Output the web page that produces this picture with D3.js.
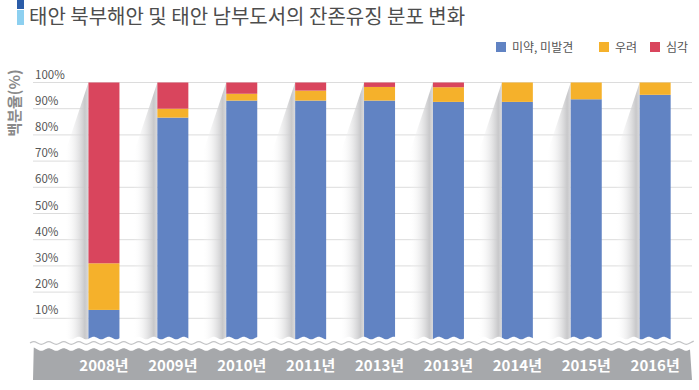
<!DOCTYPE html>
<html>
<head>
<meta charset="utf-8">
<script src="https://cdn.jsdelivr.net/npm/d3@7"></script>
<style>
  body { margin: 0; background: #fff; }
  text { font-family: "Noto Sans CJK KR", "Noto Sans", sans-serif; }
</style>
</head>
<body>
<svg id="chart" width="699" height="390"></svg>
<script>
const years = ["2008년", "2009년", "2010년", "2011년", "2013년", "2013년", "2014년", "2015년", "2016년"];
const mild = [13.2, 86.6, 93.1, 93.1, 93.1, 92.6, 92.6, 93.6, 95.3];
const concern = [17.8, 3.4, 2.6, 3.8, 5.2, 5.6, 7.4, 6.4, 4.7];
const severe = [69.0, 10.0, 4.3, 3.1, 1.7, 1.8, 0, 0, 0];
const seriesNames = ["미약, 미발견", "우려", "심각"];
const colors = ["#6183c3", "#f5b12b", "#d9455d"];
const yTicks = [10, 20, 30, 40, 50, 60, 70, 80, 90, 100];

const svg = d3.select("#chart");

// table for the stack
const rows = years.map((y, i) => ({ idx: i, year: y, s0: mild[i], s1: concern[i], s2: severe[i] }));
const stack = d3.stack().keys(["s0", "s1", "s2"]);
const layers = stack(rows);

const x = d3.scaleBand()
    .domain(d3.range(years.length))
    .range([69.5, 689.6])
    .paddingInner(0.55)
    .paddingOuter(0.275);

const y = d3.scaleLinear().domain([0, 100]).range([344.5, 82.5]);

// title
svg.append("rect").attr("x", 17).attr("y", 0).attr("width", 7).attr("height", 9).attr("fill", "#2a5ca8");
svg.append("rect").attr("x", 17).attr("y", 10).attr("width", 7).attr("height", 15).attr("fill", "#8dd0f0");
svg.append("text")
    .attr("x", 29).attr("y", 24)
    .text("태안 북부해안 및 태안 남부도서의 잔존유징 분포 변화")
    .style("font-size", "20px")
    .style("fill", "#4d4d4d");

// legend
const legend = svg.append("g");
const legX = [496, 599, 650];
seriesNames.forEach((name, i) => {
    legend.append("rect")
        .attr("x", legX[i]).attr("y", 42)
        .attr("width", 10).attr("height", 10)
        .attr("fill", colors[i]);
    legend.append("text")
        .attr("x", legX[i] + 16).attr("y", 51.5)
        .text(name)
        .style("font-size", "12px")
        .style("fill", "#555");
});

// y axis title
svg.append("text")
    .attr("transform", "translate(20,103) rotate(-90)")
    .attr("text-anchor", "middle")
    .text("백분율(%)")
    .style("font-size", "15px")
    .style("font-weight", "bold")
    .style("fill", "#8a8a8a");

// gridlines + tick labels
const grid = svg.append("g");
grid.selectAll("line")
    .data(yTicks)
    .enter()
    .append("line")
    .attr("x1", 33).attr("x2", 692)
    .attr("y1", d => y(d)).attr("y2", d => y(d))
    .attr("stroke", "#dcdcdc")
    .attr("stroke-width", 1);
grid.selectAll("text")
    .data(yTicks)
    .enter()
    .append("text")
    .attr("x", 35)
    .attr("y", d => y(d) - 4)
    .text(d => d + "%")
    .style("font-size", "11.5px")
    .style("fill", "#555");

// shadow gradient
const defs = svg.append("defs");
const grad = defs.append("linearGradient").attr("id", "shade").attr("x1", "0").attr("x2", "1").attr("y1", "0").attr("y2", "0");
grad.append("stop").attr("offset", "0%").attr("stop-color", "#ffffff").attr("stop-opacity", 0);
grad.append("stop").attr("offset", "85%").attr("stop-color", "#c8c8ca");
grad.append("stop").attr("offset", "100%").attr("stop-color", "#dadadc");

const shW = 24;
svg.append("g").selectAll("path")
    .data(rows)
    .enter()
    .append("path")
    .attr("d", d => {
        const x0 = x(d.idx);
        return `M${x0},${y(100)} L${x0 - shW},${y(100) + 72} L${x0 - shW},${y(0)} L${x0},${y(0)} Z`;
    })
    .attr("fill", "url(#shade)");

// bars
svg.append("g").selectAll("g")
    .data(layers)
    .enter()
    .append("g")
    .attr("fill", (d, i) => colors[i])
    .selectAll("rect")
    .data(d => d)
    .enter()
    .append("rect")
    .attr("x", d => x(d.data.idx))
    .attr("width", x.bandwidth())
    .attr("y", d => y(d[1]))
    .attr("height", d => Math.max(0, y(d[0]) - y(d[1])));

// wavy bottom
const wavePts = (y0, amp) => d3.range(30, 696, 3.75).map((px, k) => [px, y0 + (k % 4 === 1 ? -amp : k % 4 === 3 ? amp : 0)]);
const waveLine = d3.line().curve(d3.curveBasis);

svg.append("path")
    .attr("d", waveLine(wavePts(338, 2)) + " L696,392 L30,392 Z")
    .attr("fill", "#fff");
svg.append("path")
    .attr("d", waveLine(wavePts(343, 2)))
    .attr("fill", "none")
    .attr("stroke", "#c3c4c6")
    .attr("stroke-width", 1.3);
svg.append("path")
    .attr("d", waveLine(wavePts(349.5, 2).filter(p => p[0] >= 33 && p[0] <= 692)) + " L692,380 L33,380 Z")
    .attr("fill", "#a6a8ab");

// x labels
svg.append("g").selectAll("text")
    .data(rows)
    .enter()
    .append("text")
    .attr("x", d => x(d.idx) + x.bandwidth() / 2)
    .attr("y", 370.5)
    .attr("text-anchor", "middle")
    .text(d => d.year)
    .style("font-size", "15px")
    .style("font-weight", "bold")
    .style("fill", "#fff");
</script>
</body>
</html>
